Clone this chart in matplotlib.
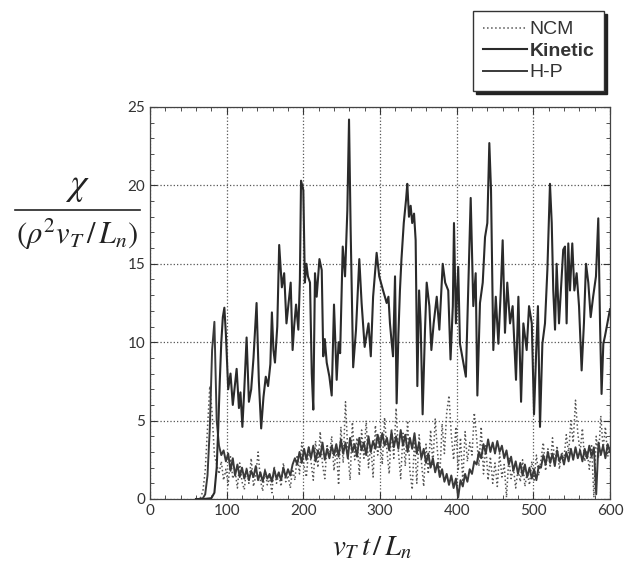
import numpy as np
import matplotlib.pyplot as plt
from matplotlib.lines import Line2D
from matplotlib.ticker import MultipleLocator

plt.rcParams['mathtext.fontset'] = 'stix'
plt.rcParams['font.family'] = ['Lato', 'DejaVu Sans']

# Kinetic (upper curve)
kin_t = [60, 70, 80, 84, 87, 89, 91, 93, 95, 97,
         99, 102, 105, 108, 111, 113, 116, 118, 120.5, 123,
         126, 129, 132, 135, 139, 142, 145, 148, 151, 154,
         157, 159, 161, 163, 166, 168.5, 172, 175, 178, 181,
         183.5, 186, 188, 190.5, 193.5, 195.5, 197, 200, 202, 204,
         206, 208.7, 211, 213, 215.2, 217.4, 219, 221, 224, 226,
         228, 230.5, 234, 237, 240, 243.5, 246, 248, 251.4, 254.4,
         257.4, 259.6, 261.7, 265, 268.7, 273, 276, 280, 285, 288,
         291, 295.6, 299, 304, 308.7, 311, 313, 315, 317, 319.6,
         321.7, 324, 326, 328, 331, 334, 335.6, 337.8, 340, 342,
         344.4, 346.5, 348.7, 351, 353, 355.6, 358.7, 360.9, 364.4, 367,
         370, 374, 377.4, 381.8, 385, 389, 392, 395, 396.5, 399,
         402, 404.3, 408.7, 412, 415, 418.3, 421.7, 424.8, 427, 430.4,
         434, 437, 440, 442.6, 444.8, 447.8, 451, 454.4, 457.4, 460,
         463, 466, 469.6, 473, 477.4, 480.5, 484, 487, 491.3, 494.4,
         498, 500.9, 503.5, 506, 508.7, 511.8, 515.2, 518.3, 521.7, 524,
         526, 528.3, 530.4, 533.5, 537, 539, 541.3, 543.4, 545.6, 547.8,
         550.8, 553.5, 556.5, 559.6, 563, 566, 568.7, 571.7, 574.8, 578,
         581.7, 584.7, 587, 589, 591.3, 593.5, 596.5, 600]
kinetic = [0, 0, 0.05, 0.4, 2.0, 4.5, 7.5, 10.0, 11.6, 12.2,
           10.5, 7.0, 8.0, 6.0, 7.4, 8.3, 5.8, 6.8, 4.6, 7.0,
           10.3, 6.2, 7.0, 9.0, 12.5, 7.5, 4.5, 6.5, 7.8, 7.2,
           8.6, 11.9, 9.5, 8.7, 11.0, 16.2, 13.5, 14.4, 11.2, 12.6,
           13.8, 9.5, 11.0, 12.4, 10.8, 14.0, 20.3, 19.7, 13.8, 15.0,
           14.2, 13.8, 8.0, 5.7, 14.4, 12.9, 14.0, 15.3, 14.6, 9.1,
           10.2, 8.7, 7.8, 6.6, 12.4, 7.6, 10.0, 9.3, 16.1, 14.2,
           18.4, 24.2, 17.2, 8.4, 10.8, 15.3, 12.5, 9.7, 11.2, 9.1,
           12.9, 15.7, 14.2, 13.3, 12.5, 12.9, 11.2, 10.1, 9.1, 14.2,
           6.1, 10.5, 13.3, 15.3, 17.6, 19.1, 20.1, 18.0, 18.7, 17.6,
           18.2, 16.5, 7.2, 13.3, 11.2, 5.4, 10.8, 13.8, 12.3, 9.5,
           11.2, 12.9, 10.8, 15.0, 13.8, 13.3, 8.9, 12.3, 17.6, 11.2,
           14.8, 9.9, 8.7, 7.8, 13.3, 19.2, 12.3, 14.4, 6.6, 12.5,
           13.8, 16.7, 17.6, 22.7, 19.7, 9.5, 12.9, 9.9, 13.1, 16.5,
           10.6, 13.8, 11.2, 12.3, 7.6, 12.9, 6.2, 11.2, 9.5, 12.3,
           11.2, 5.4, 9.1, 12.3, 4.6, 9.9, 11.2, 14.6, 20.1, 17.6,
           13.3, 10.8, 15.0, 11.2, 14.2, 15.9, 16.1, 11.2, 16.3, 13.3,
           16.3, 13.3, 14.4, 12.3, 8.2, 11.2, 15.0, 13.8, 11.6, 12.9,
           14.2, 17.9, 11.2, 6.7, 9.9, 10.4, 11.2, 12.1]

# lower curves share one time grid, every 3 units from 60 to 600
low_t = np.arange(60, 601, 3)
hp = [0, 0, 0, 0.05, 0.3, 1.5, 4.5, 9.5, 11.3, 5.0,
      3.4, 2.8, 3.1, 2.4, 2.9, 1.8, 2.6, 1.5, 2.2, 1.4,
      2.0, 1.3, 1.9, 1.2, 1.8, 1.4, 2.1, 1.2, 1.7, 1.1,
      1.8, 1.3, 1.6, 1.1, 1.9, 1.3, 1.7, 1.2, 2.0, 1.4,
      1.9, 1.5, 2.2, 2.6, 2.2, 3.0, 2.3, 3.2, 2.5, 3.3,
      2.6, 3.4, 2.4, 3.1, 2.7, 3.6, 2.5, 3.2, 2.6, 3.4,
      2.8, 3.5, 2.7, 3.8, 2.9, 3.6, 2.6, 3.9, 3.0, 3.5,
      2.7, 3.9, 3.1, 3.6, 2.8, 4.0, 3.0, 3.7, 3.2, 4.1,
      3.3, 4.2, 3.4, 3.9, 3.1, 4.3, 3.3, 4.0, 3.2, 4.4,
      3.4, 4.1, 3.0, 3.9, 3.2, 4.2, 2.9, 3.6, 2.6, 3.2,
      2.3, 2.9, 2.0, 2.6, 1.7, 2.3, 1.4, 1.9, 1.1, 1.6,
      0.9, 1.5, 0.7, 1.3, 0.1, 1.2, 0.8, 1.6, 1.1, 1.9,
      1.6, 2.4, 2.2, 3.0, 2.6, 3.5, 2.9, 3.8, 3.0, 3.6,
      2.9, 3.7, 3.0, 3.4, 2.6, 3.1, 2.2, 2.7, 1.8, 2.4,
      1.6, 2.3, 1.5, 2.2, 1.4, 2.0, 1.3, 1.9, 1.2, 2.1,
      2.0, 2.8, 2.2, 3.0, 2.3, 2.9, 2.1, 3.1, 2.4, 2.8,
      2.2, 3.0, 2.4, 3.2, 2.5, 3.3, 2.6, 3.1, 2.4, 3.2,
      2.6, 3.4, 2.7, 3.3, 0.3, 3.6, 2.8, 3.4, 2.6, 3.5,
      3.0]
ncm = [0, 0.02, 0.1, 0.5, 1.8, 4.5, 7.2, 5.5, 2.8, 2.2,
       1.6, 2.4, 1.2, 1.9, 0.9, 2.7, 1.3, 1.8, 0.7, 2.3,
       1.1, 0.6, 2.0, 1.0, 2.6, 0.8, 1.5, 3.0, 1.2, 0.5,
       1.9, 0.9, 1.4, 0.4, 2.1, 1.0, 1.6, 0.8, 2.3, 1.1,
       1.5, 0.7, 1.9, 1.2, 2.8, 1.6, 3.6, 2.1, 1.4, 3.3,
       2.4, 1.2, 3.7, 2.0, 4.3, 2.2, 1.3, 3.5, 2.7, 4.0,
       1.8, 3.3, 0.9, 4.6, 2.3, 6.2, 3.0, 1.2, 4.9, 2.5,
       3.9, 1.5, 4.4, 2.6, 5.0, 2.0, 3.5, 1.4, 4.7, 2.8,
       4.0, 2.2, 5.2, 3.1, 1.6, 4.5, 2.6, 5.8, 3.0, 1.3,
       4.2, 2.1, 5.0, 1.8, 0.6, 3.8, 1.0, 4.1, 2.4, 0.8,
       3.5, 1.6, 4.4, 2.2, 5.1, 3.0, 1.4, 4.8, 2.9, 5.5,
       6.6, 4.1, 2.5, 4.6, 1.8, 3.9, 1.1, 4.3, 2.4, 3.6,
       2.8, 5.5, 3.9, 2.1, 4.6, 1.6, 3.4, 1.2, 2.7, 1.0,
       2.3, 0.8, 2.9, 1.4, 2.2, 0.1, 2.6, 1.3, 2.0, 0.7,
       1.9, 1.1, 2.5, 0.8, 1.7, 0.9, 2.4, 1.2, 2.8, 1.5,
       2.5, 3.6, 1.8, 3.2, 2.0, 3.9, 2.3, 3.4, 1.9, 3.0,
       2.6, 4.1, 2.9, 5.0, 3.6, 6.3, 4.2, 3.0, 4.5, 2.4,
       3.1, 1.9, 3.4, 0.1, 4.0, 2.6, 5.3, 3.2, 4.6, 2.7,
       3.4]

xticks = [0, 100, 200, 300, 400, 500, 600]
yticks = [0, 5, 10, 15, 20, 25]

fig = plt.figure(figsize=(6.36, 5.69), dpi=100)
ax = fig.add_axes([150/636, 1 - 499/569, 460/636, 392/569])

l_ncm, = ax.plot(low_t, ncm, ':', color='#555555', lw=1.1)
l_hp, = ax.plot(low_t, hp, '-', color='#3a3a3a', lw=1.4)
l_kin, = ax.plot(kin_t, kinetic, '-', color='#2a2a2a', lw=1.5)

ax.set_xlim(0, 600)
ax.set_ylim(0, 25)
ax.set_xticks(xticks)
ax.set_yticks(yticks)
ax.xaxis.set_minor_locator(MultipleLocator(20))
ax.yaxis.set_minor_locator(MultipleLocator(1))
ax.tick_params(which='both', direction='in', top=True, right=True,
               colors='#333333', labelsize=11)
ax.tick_params(which='major', length=5)
ax.tick_params(which='minor', length=3)
ax.grid(True, which='major', linestyle=':', color='#555555', lw=0.9)
for s in ax.spines.values():
    s.set_color('#444444')
    s.set_linewidth(0.9)

# y label as a stacked fraction: numerator, bar, denominator
fig.text(77/636, 1 - 186/569, r'$\chi$', ha='center', va='center',
         fontsize=27, color='#222222')
fig.add_artist(Line2D([15/636, 140/636], [1 - 210/569, 1 - 210/569],
                      color='#222222', lw=1.2))
fig.text(77/636, 1 - 234/569, r'$(\rho^2 v_T\,/\,L_n)$', ha='center',
         va='center', fontsize=22, color='#222222')
fig.text(372/636, 1 - 548/569, r'$v_T\,t\,/\,L_n$',
         ha='center', va='center', fontsize=21, color='#222222')

leg = fig.legend([l_ncm, l_kin, l_hp], ['NCM', 'Kinetic', 'H-P'],
                 loc='upper right', bbox_to_anchor=(604/636, 1 - 11/569),
                 borderaxespad=0, prop={'family': 'Liberation Sans', 'size': 14},
                 fancybox=False, shadow={'color': '#222222', 'alpha': 1},
                 edgecolor='#333333', framealpha=1,
                 handlelength=2.3, handletextpad=0.1, borderpad=0.5,
                 labelspacing=0.2)
leg.get_frame().set_linewidth(1.0)
for txt in leg.get_texts():
    txt.set_color('#333333')
leg.get_texts()[1].set_fontweight('bold')

fig.savefig('out.png', dpi=100)
